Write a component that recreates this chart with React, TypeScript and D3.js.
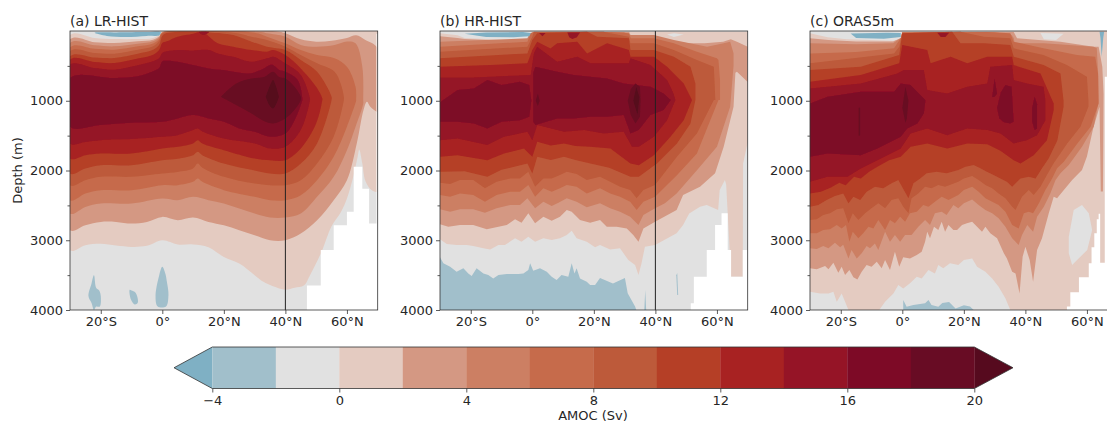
import React, { useLayoutEffect, useRef } from "react";
import * as d3 from "d3";

type P = [number, number];

// Contour thresholds (Sv) and their fill colours
const levels = [-6, -4, -2, 0, 2, 4, 6, 8, 10, 12, 14, 16, 18, 20];
const levelColors = ["#7fb0c4", "#a1bfcb", "#e1e1e1", "#e4cbc1", "#d49883", "#cc7f63", "#c66b4b", "#bd5a3a", "#b53f26", "#a82222", "#951426", "#7d0a26", "#680c24", "#560a1e"];
const cbTicks = [-4, 0, 4, 8, 12, 16, 20];
const latTicks = [-20, 0, 20, 40, 60];
const depthMajor = [1000, 2000, 3000, 4000];
const depthMinor = [500, 1500, 2500, 3500];

// ---------- (a) LR-HIST: region >= level, as top edge + bottom edge [lat, depth]
const a0T: P[] = [[-30,60],[-22,100],[-15.6,115],[-8,115],[-3,100],[-1,50],[0,0],[70,0]];
const a0B: P[] = [[-30,3144],[-25,3070],[-20,3050],[-15,3075],[-10,3095],[-5,3080],[0,3000],[5,3060],[10,3060],[15,3100],[20,3240],[25,3335],[30,3500],[33,3600],[36,3660],[40,3710],[43,3680],[46,3650],[48,3500],[50,3330],[52,3140],[55,2800],[58,2600],[60,2400],[62,2100],[63.5,1800],[64,1700],[65,1900],[66,2150],[68,2280],[70,2300]];
const a2T: P[] = [[-30,120],[-22,160],[-15.6,172],[-8,148],[-3,124],[-1,76],[0,15],[38,10],[40,33],[45,120],[50,153],[55,139],[60,100],[63,60],[66,130],[70,249]];
const a2B: P[] = [[-30,2856],[-25,2785],[-20,2737],[-15,2737],[-10,2761],[-5,2737],[0,2665],[5,2713],[10,2675],[15,2737],[20,2785],[25,2856],[30,2930],[35,3000],[40,3000],[45,2904],[50.3,2713],[55.7,2426],[60,2139],[63.2,1612],[65.4,1134],[66.5,1014],[67.6,1086],[69.7,1158],[70,1160]];
const a4T: P[] = [[-30,172],[-22,205],[-15.6,220],[-8,182],[-3,148],[-1,90],[0,20],[32,15],[34,33],[40,81],[45,200],[50,225],[56,200],[60,150],[62.8,177],[65,512],[65.3,990]];
const a4B: P[] = [[-30,2617],[-25,2522],[-20,2474],[-10,2474],[0,2402],[5,2426],[10,2378],[15,2426],[20,2474],[25,2545],[30,2617],[35,2675],[40,2675],[45,2617],[50.3,2378],[55.7,2091],[60,1708],[62.8,1373],[65.3,1038]];
const a6T: P[] = [[-30,235],[-22,255],[-15.6,268],[-8,220],[-3,180],[-1,110],[0,25],[30,25],[34,81],[40,177],[45,273],[50.3,345],[56,392],[60,512],[62.8,800],[63,990]];
const a6B: P[] = [[-30,2426],[-25,2330],[-20,2282],[-10,2282],[0,2211],[5,2211],[10,2163],[11.5,2115],[13,2163],[20,2282],[30,2378],[35,2426],[40,2426],[45,2354],[50.3,2139],[55.7,1804],[60,1373],[63,1000]];
const a8T: P[] = [[-30,292],[-22,315],[-15.6,325],[-8,268],[-3,220],[-1,140],[0,35],[23,25],[29,81],[34,129],[40,225],[45,345],[50.3,464],[56,584],[58,760],[59,943]];
const a8B: P[] = [[-30,2211],[-25,2139],[-20,2091],[-10,2091],[0,2043],[5,2020],[10,1971],[11.5,1900],[13,1960],[20,2091],[30,2187],[40,2211],[45,2139],[50.3,1900],[55.7,1517],[59,990]];
const a10T: P[] = [[-30,363],[-22,380],[-15.6,387],[-8,325],[-3,268],[-1,196],[0,70],[1.5,30],[11,10],[15,20],[23,57],[29,153],[34,225],[40,273],[45,416],[50.3,584],[55,943]];
const a10B: P[] = [[-30,2043],[-25,1971],[-20,1924],[-10,1924],[0,1852],[5,1830],[10,1780],[11.5,1732],[13,1780],[20,1900],[30,2000],[35,2043],[40,2043],[45,1900],[50.3,1612],[55,990]];
const a12T: P[] = [[-30,411],[-22,445],[-15.6,459],[-8,396],[-3,339],[-1,268],[0,172],[1.5,148],[5,81],[10,40],[12,15],[14,40],[18,177],[23,225],[29,273],[34,297],[36,273],[40,345],[45,536],[50,800],[52,967]];
const a12B: P[] = [[-30,1828],[-25,1780],[-20,1756],[-10,1756],[0,1684],[5,1660],[10,1612],[11.5,1565],[13,1612],[20,1708],[30,1828],[35,1852],[40,1852],[45,1684],[50,1325],[52,990]];
const a14T: P[] = [[-30,483],[-22,530],[-15.6,554],[-8,492],[-3,435],[-1,387],[0,315],[1.5,292],[5,273],[10,280],[15,273],[18,321],[23,368],[29,440],[34,392],[36,368],[40,464],[45,632],[48,967]];
const a14B: P[] = [[-30,1612],[-25,1590],[-20,1565],[-10,1550],[0,1517],[5,1493],[10,1420],[11.5,1397],[13,1440],[20,1541],[30,1612],[35,1684],[40,1660],[45,1421],[48,990]];
const a14P: P[] = [[11.9,15],[15.2,15],[14,50],[13,55]];
const a16T: P[] = [[-30,674],[-15.6,674],[-8,650],[-3,578],[-1,530],[0,435],[1.5,425],[5,440],[10,488],[15,536],[20,560],[28,608],[32,560],[35,488],[36,488],[38,560],[40,584],[44,703],[45.5,967]];
const a16B: P[] = [[-30,1373],[-20,1349],[-10,1316],[0,1302],[5,1254],[10,1206],[15,1254],[20,1302],[25,1397],[30,1445],[35,1517],[40,1469],[43,1278],[45.5,990]];
const a18T: P[] = [[19,943],[24,751],[29,680],[33,660],[36,584],[38,660],[40,680],[43,800],[45,943]];
const a18B: P[] = [[19,943],[24,1062],[29,1182],[33,1290],[36,1325],[40,1254],[43,1130],[45,990]];
const a20T: P[] = [[33.6,943],[35,780],[36,703],[37,800],[37.9,943]];
const a20B: P[] = [[33.6,943],[35,1080],[36,1110],[37,1050],[37.9,943]];
const aBlue1: P[] = [[-24,3800],[-23,3620],[-22.2,3500],[-21.5,3680],[-20.5,3720],[-20,3800],[-20.3,3950],[-21.5,3950],[-22.2,4000],[-23,3900]];
const aBlue2: P[] = [[-10.6,3710],[-10,3720],[-9,3740],[-8.2,3800],[-8,3900],[-9,3920],[-10.2,3850]];
const aBlue3: P[] = [[-2.2,3800],[-1,3500],[0,3380],[1,3480],[1.5,3600],[2,3780],[1.2,3950],[-1.5,3950]];
const aBlueTop: P[] = [[-22,25],[-15,20],[-5,15],[-0.5,15],[-1,60],[-5,70],[-12,85],[-18,70]];
const aMask: P[] = [[47,3650],[51.5,3140],[55.7,2785],[60,2590],[62.2,1947],[65,2260],[67.2,2760],[69.6,40],[70,40]];

// ---------- (b) HR-HIST
const b0T: P[] = [[-30,33],[-24.3,60],[-22,100],[-10,125],[-2,125],[-0.5,100],[0,10],[70,10]];
const b0B: P[] = [[-30,2987],[-27.8,3054],[-24.6,3069],[-21.3,3069],[-19.2,3083],[-15.9,3116],[-13.7,3131],[-11,3069],[-8.9,3069],[-5.6,2973],[-3.5,3021],[-1.3,2949],[0.9,3021],[3.6,2973],[6.3,2997],[9,2973],[11.2,2925],[12.8,2863],[14.4,2973],[17.7,3021],[20.4,3102],[22,3069],[25.3,3131],[28.5,3116],[31.2,3284],[33.4,3355],[34.5,3499],[35.5,3331],[36.6,3092],[39.9,3069],[46.9,2900],[49,2780],[51,2615],[54.5,2519],[56.7,2495],[60.4,2566],[60.9,2280],[62.6,2136],[63,2200],[63.5,2614],[64.6,3522],[68.4,3522],[68.5,1900],[70,1600]];
const b2T: P[] = [[-30,75],[-24.3,100],[-22,115],[-10,135],[-2,135],[-0.5,100],[0.3,15],[31.5,15],[32,70],[40,81],[46,153],[51,177],[56,177],[62,153],[64.5,120],[66.5,153],[70,225]];
const b2B: P[] = [[-30,2772],[-27.3,2806],[-23.5,2782],[-19.2,2782],[-14.8,2844],[-11,2806],[-8.3,2782],[-5.6,2700],[-3.5,2748],[-1.3,2614],[0.9,2758],[3.6,2662],[6.3,2720],[9,2662],[11.2,2567],[12.8,2590],[15.5,2710],[18.8,2748],[22,2710],[24.2,2806],[27.4,2806],[30.7,2830],[32.8,2925],[34.5,3021],[36.1,2830],[39.9,2734],[46.9,2566],[49,2350],[54.5,2232],[59.4,2040],[62.2,1660],[65.4,1086],[66,600],[66.5,584],[70,730]];
const b4T: P[] = [[-30,153],[-1.6,105],[-0.8,33],[0.5,15],[29.7,15],[32,57],[39.5,57],[46,129],[56.8,225],[62.2,177],[64.3,153],[65.4,320]];
const b4B: P[] = [[-30,2557],[-26.7,2590],[-23.5,2557],[-19.2,2557],[-15.4,2605],[-11.6,2543],[-7.2,2495],[-4,2495],[-1.6,2399],[0.9,2543],[3.6,2447],[6.3,2509],[8.5,2461],[11.2,2399],[14.4,2447],[17.7,2528],[22,2471],[25.3,2543],[28.5,2590],[31.8,2662],[34.5,2782],[36.1,2638],[39.9,2543],[43.1,2471],[46.9,2328],[53.5,1995],[60,1660],[64.3,1086],[65.4,500]];
const b6T: P[] = [[-30,225],[-1.6,153],[-0.5,33],[0.5,15],[25.4,15],[31.4,33],[32,105],[39.5,105],[46,177],[53.5,297],[60,392],[60.5,416],[61,700],[61,990]];
const b6B: P[] = [[-30,2351],[-26.7,2375],[-23.5,2328],[-19.2,2351],[-15.4,2447],[-11.6,2351],[-7.2,2304],[-4,2304],[-1.3,2208],[0.9,2375],[3.6,2256],[6.3,2304],[9,2256],[11.2,2208],[14.4,2232],[17.7,2328],[22,2256],[25.3,2328],[28.5,2375],[31.8,2447],[33.9,2567],[36.1,2447],[39.9,2375],[47,2067],[53.5,1756],[60.5,990]];
const b8T: P[] = [[-30,297],[-1.6,225],[0,81],[0.5,10],[23.2,10],[25.4,33],[31.4,81],[31.9,177],[39.5,177],[46,273],[53.5,416],[59,512],[59.5,990]];
const b8B: P[] = [[-30,2175],[-26.7,2194],[-23.5,2136],[-19.2,2136],[-15.4,2256],[-11.6,2160],[-7.2,2113],[-4,2113],[-1.3,2017],[0.9,2232],[3.6,2113],[6.3,2113],[9,2065],[11.2,2017],[14.4,2050],[17.7,2136],[22,2089],[25.3,2160],[28.5,2232],[31.8,2280],[33.9,2399],[36.1,2280],[39.9,2208],[47,1804],[53.5,1469],[59,990]];
const b10T: P[] = [[-30,392],[-1.6,321],[0,129],[1.6,33],[17.8,10],[21.1,81],[31.4,105],[31.9,273],[39.5,273],[46,368],[51.4,512],[53,751],[53,990]];
const b10B: P[] = [[-30,2019],[-22,2010],[-14.6,2091],[-10,1990],[-1.6,1900],[0,2043],[1.6,1804],[6,1850],[10.3,1804],[14,1850],[18.9,1900],[25,1960],[31.9,2091],[34.6,2091],[40.5,1900],[47,1612],[51.4,1325],[53,990]];
const b12T: P[] = [[-30,512],[-13.5,488],[-1.6,464],[0,273],[1.6,153],[5.9,250],[8.1,177],[14.6,153],[17.8,321],[24.3,177],[31.4,273],[31.9,368],[39.5,368],[43.8,512],[49.2,751],[51.9,990]];
const b12B: P[] = [[-30,1804],[-24.3,1780],[-14.6,1852],[-9.2,1756],[-2.7,1684],[0,1804],[1.6,1589],[6,1640],[10.3,1612],[14,1650],[18.9,1660],[25.4,1684],[31.9,1900],[34.6,1924],[39.5,1780],[44.9,1517],[49.2,1278],[51.9,990]];
const b14T: P[] = [[-30,665],[-19,665],[-0.5,632],[0.5,321],[1.6,225],[8.1,440],[14.6,368],[18.9,464],[24.3,464],[31.4,464],[31.9,392],[38.4,488],[43.8,703],[45.9,895],[46.5,990]];
const b14B: P[] = [[-30,1565],[-24.3,1541],[-14.6,1636],[-9.2,1517],[-1.6,1445],[0,1565],[1.6,1349],[10.3,1445],[16.8,1421],[23.2,1469],[29.7,1445],[32.4,1660],[34.6,1660],[39.5,1517],[43.8,1278],[46.5,990]];
const b14P1: P[] = [[2.2,30],[4.3,30],[3.3,75]];
const b14P2: P[] = [[11.4,20],[15.5,20],[14.5,90],[13,115],[12,90]];
const b16L: P[] = [[-30,1020],[-24.3,847],[-19,823],[-14.6,703],[-10,775],[-4,727],[-1,775],[-0.3,1000],[-1,1230],[-4,1278],[-10,1302],[-14.6,1397],[-19,1325],[-24.3,1302],[-30,1302]];
const b16T: P[] = [[0.3,600],[1,512],[8.1,584],[13.5,632],[18.9,656],[24.3,680],[29.7,751],[38.4,799],[42.7,895],[45,990]];
const b16B: P[] = [[0.3,1300],[1,1349],[8.1,1254],[13.5,1254],[18.9,1230],[24.3,1230],[29.7,1206],[31.9,1469],[34.6,1421],[38.4,1206],[42.7,1134],[45,990]];
const b18P1: P[] = [[31,1000],[32,830],[33.5,751],[35,799],[35.2,1000],[35,1230],[33.5,1325],[32,1206]];
const b18P2: P[] = [[1.1,1000],[1.8,895],[2.4,1000],[1.8,1075]];
const b20P: P[] = [[32.8,1000],[33.8,800],[34.8,950],[34.2,1200]];
const bBlueTop: P[] = [[-22,40],[-15,20],[-3,15],[-0.5,30],[-1,75],[-6,90],[-15,85]];
const bBlueLow: P[] = [[-30,3245],[-28.9,3331],[-26.7,3379],[-24.6,3451],[-22.4,3403],[-20.8,3475],[-19.7,3513],[-18.1,3403],[-15.9,3475],[-14.3,3499],[-12.7,3547],[-11,3499],[-8.3,3484],[-4.5,3484],[-2.9,3475],[-1.3,3427],[-0.7,3331],[0.3,3437],[2.5,3403],[4.7,3451],[6.3,3523],[7.9,3570],[9.5,3499],[11.7,3523],[12.8,3331],[13.7,3475],[14.4,3403],[15.5,3547],[17.7,3594],[18.8,3642],[20.4,3642],[22,3540],[26.2,3620],[30.1,3540],[31,3760],[33.4,3950],[33.8,4000],[-30,4000]];
const bBlueS1: P[] = [[36.4,4000],[36.7,3713],[37,4000]];
const bBlueS2: P[] = [[46.8,3500],[47.1,3470],[47.4,3785],[47.1,3785]];
const bGrayTop: P[] = [[43.8,50],[46,33],[49.2,50],[46,85]];
const bMask: P[] = [[51.5,3904],[52.5,3522],[56.7,3140],[59.4,2781],[61.5,2614],[63.5,3140],[64.6,3522],[68.4,3140],[70,3140]];

// ---------- (c) ORAS5m
const c0T: P[] = [[-30,33],[-24.3,91],[-18,120],[-3,139],[-0.5,120],[0,10],[70,0]];
const c0B: P[] = [[-30,4000],[70,4000]];
const c2T: P[] = [[-30,105],[-24,130],[-15,150],[-3,150],[-0.5,100],[0,15],[36.2,15],[37.3,105],[51.4,153],[62.2,225],[63.8,225],[65,512],[65.4,900]];
const c2B: P[] = [[-30,3403],[-27.8,3417],[-25.1,3370],[-24,3417],[-22.4,3322],[-20.8,3465],[-19.7,3379],[-18.6,3499],[-17.2,3427],[-15.9,3532],[-14.6,3561],[-13.2,3451],[-11.6,3355],[-10,3379],[-8.3,3307],[-6.7,3403],[-5.6,3284],[-4,3427],[-2.4,3164],[-1,3379],[0.3,3245],[2.5,3260],[4.7,3212],[6.3,3164],[7.4,3021],[8.1,2877],[9,2973],[10.3,2806],[11.7,2853],[12.8,2734],[13.9,2877],[15,2782],[16.6,2853],[17.8,2853],[19.4,2782],[21,2758],[22.7,2734],[24.3,2806],[25.9,2877],[27,2806],[28.6,2901],[30.8,2973],[33,3188],[34,3260],[35.7,3451],[36.8,3475],[38.1,3762],[39.1,3236],[40,3092],[41.4,3284],[42.5,3594],[43.8,3140],[45.4,2973],[47.6,2614],[49.2,2375],[50.3,2399],[52.5,2280],[55.2,2136],[58.4,1993],[60,1800],[62,1400],[64.1,1086],[64.5,2300],[65.2,2300],[65.4,900]];
const c4T: P[] = [[-30,177],[-15,190],[-3,177],[-0.5,100],[0,15],[29.7,15],[35.5,57],[36.2,100],[36.5,177],[46,177],[62.2,225],[63.2,249],[63.7,650],[63.7,990]];
const c4B: P[] = [[-30,3116],[-27.8,3126],[-25.7,3083],[-24,3116],[-21.9,3035],[-20.2,3102],[-19.2,3064],[-17.5,3260],[-16.5,3140],[-14.8,3260],[-13.2,3188],[-11.6,3083],[-10.5,3116],[-8.9,3045],[-7.8,3140],[-5.6,2877],[-4,3021],[-2.4,2925],[-0.7,3021],[0.9,2925],[3,2925],[5.2,2806],[7.4,2710],[9,2782],[10.6,2614],[12.8,2590],[14.4,2638],[16.6,2495],[18.2,2543],[20,2471],[22.7,2414],[24.8,2495],[27,2567],[29.2,2614],[31.3,2686],[33.5,2806],[35.7,2973],[37.8,3069],[38.9,2925],[40.6,2782],[42.5,2877],[43.8,2662],[46,2519],[48.1,2328],[49.8,2136],[51.4,2041],[54.1,1921],[58.4,1658],[62.2,1372],[63.7,1037]];
const c6T: P[] = [[-30,321],[-15,300],[-2.7,249],[-0.5,100],[0,20],[27.6,15],[35.1,33],[36.2,153],[45.9,249],[56.8,345],[62.7,368],[63.6,608],[63.8,990]];
const c6B: P[] = [[-30,2901],[-27.8,2901],[-25.7,2853],[-23.5,2844],[-21.3,2782],[-19.7,2830],[-18.3,2782],[-17.2,3021],[-16.1,2877],[-14.3,2973],[-12.7,2901],[-11,2806],[-9.4,2830],[-7.8,2710],[-5.6,2853],[-4,2710],[-2.4,2758],[-0.7,2662],[0.9,2734],[2.5,2614],[4.7,2590],[6.8,2495],[8.5,2519],[10.6,2447],[12.8,2375],[15,2423],[18.2,2351],[20,2280],[22.7,2232],[24.8,2304],[27,2399],[29.2,2447],[31.3,2495],[33.5,2590],[35.7,2782],[37.8,2830],[39.5,2614],[41.1,2590],[42.5,2614],[44.4,2471],[46.5,2280],[48.7,2113],[50.3,1969],[52.5,1874],[56.9,1612],[61.2,1373],[63.8,1038]];
const c8T: P[] = [[-30,464],[-2.7,321],[-1,225],[0,33],[18.9,10],[26.5,81],[35.1,105],[36.2,249],[45.9,345],[53.5,488],[60,656],[60.5,1000]];
const c8B: P[] = [[-30,2710],[-27.8,2700],[-25.7,2638],[-23.5,2614],[-21.3,2557],[-19.2,2543],[-17.5,2758],[-16.1,2614],[-14.3,2710],[-12.1,2614],[-10,2543],[-7.8,2471],[-5.6,2543],[-3.5,2423],[-1.3,2399],[0.3,2519],[2,2614],[3,2399],[5.2,2328],[7.4,2232],[9.5,2256],[11.7,2208],[13.9,2232],[18.2,2160],[20,2113],[22.7,2079],[24.8,2136],[27,2208],[29.2,2256],[31.3,2328],[33.5,2399],[35.7,2519],[36.8,2567],[38.9,2375],[41.1,2280],[42.7,2351],[44.9,2232],[47,2065],[49.2,1897],[53.6,1612],[57.9,1373],[60.5,1086]];
const c10T: P[] = [[-30,560],[-13.5,512],[-1,345],[0,33],[16.2,10],[18.9,177],[26.5,177],[35.1,200],[36.2,368],[45.9,488],[51.4,608],[52.4,1000]];
const c10B: P[] = [[-30,2519],[-27.3,2495],[-24.6,2423],[-21.9,2366],[-19.2,2328],[-17.5,2471],[-15.9,2375],[-13.7,2423],[-11.6,2304],[-8.9,2232],[-6.2,2256],[-3.5,2184],[-1.3,2136],[2,2399],[3.6,2184],[5.8,2113],[7.9,2041],[11.2,2017],[14.4,2041],[18.2,1993],[20.5,1945],[23.2,1921],[25.4,1969],[27.5,2017],[29.7,2065],[31.9,2113],[34,2160],[35.7,2232],[38.4,2113],[41.1,2089],[43.3,2113],[45.4,1969],[47.6,1826],[50.4,1565],[52.4,1086]];
const c12T: P[] = [[-30,727],[-13.5,632],[-1,464],[0,200],[8.1,273],[9.2,464],[15.7,368],[21.1,464],[27.6,368],[35.7,368],[36.2,488],[44.9,608],[49.2,1038]];
const c12B: P[] = [[-30,2330],[-26.5,2306],[-23.2,2244],[-20.5,2177],[-18.4,2211],[-15.7,2091],[-13.5,2115],[-10.8,2019],[-8.1,1947],[-4.3,1852],[-0.5,1804],[2.7,1660],[8.1,1612],[14.6,1684],[21.1,1612],[27.6,1622],[31.9,1718],[36.2,1852],[38.4,1900],[42.7,1780],[47,1565],[49.2,1134]];
const c14T: P[] = [[-30,823],[-13.5,751],[-1.6,608],[0.5,560],[7,560],[8.1,847],[14.6,895],[21.1,799],[27.6,751],[28.6,512],[35.7,488],[36.2,703],[40.5,751],[45.9,799],[46.5,1000]];
const c14B: P[] = [[-30,2163],[-24.3,2091],[-17.8,2091],[-13.5,1971],[-8.1,1852],[-0.5,1684],[2.7,1469],[8.1,1397],[14.6,1493],[21.1,1397],[27.6,1421],[31.9,1469],[36.2,1612],[40.5,1565],[43.8,1493],[46.5,1278]];
const c14P: P[] = [[11.4,25],[15.2,25],[14,85],[12.5,85]];
const c16T: P[] = [[-30,1038],[-24.3,943],[-13.5,871],[-2.7,871],[-0.5,751],[2.7,775],[7.5,990]];
const c16B: P[] = [[-30,1804],[-24.3,1756],[-13.5,1780],[-8.1,1684],[-0.5,1517],[1.6,1397],[4.9,1325],[7,1182],[7.5,1000]];
const c16P1: P[] = [[29.2,950],[30,680],[30.8,900],[30,943]];
const c16P2: P[] = [[30.8,1100],[32,880],[33.5,775],[35.5,800],[36.2,1300],[35,1325],[33,1310],[31.5,1250]];
const c16P3: P[] = [[42.2,1100],[43,943],[43.8,1050],[43.8,1400],[43,1421],[42.2,1300]];
const c18P1: P[] = [[0,1100],[1,800],[2,1000],[1.5,1250],[1,1320]];
const c18P2: P[] = [[-14.2,1100],[-13.7,1100],[-13.7,1500],[-14.2,1500]];
const cBlueTop: P[] = [[-16.8,35],[-5,25],[-0.5,30],[-0.5,85],[-6,110],[-15,100]];
const cBlueStrip: P[] = [[64.1,10],[65.6,10],[65.3,100],[64.8,370],[64.4,100]];
const cBlueLow: P[] = [[0.3,3857],[1.4,3953],[3.6,3929],[7.4,3905],[8.5,3857],[9.5,3929],[11.7,3953],[13,3900],[15.2,3885],[17.3,3980],[20,3933],[22,3950],[23.2,4000],[0.3,4000]];
const cGrayL: P[] = [[-30,3738],[-26.7,3762],[-24,3762],[-22.4,3738],[-21.3,3881],[-19.7,3762],[-17.5,4000],[-30,4000]];
const cGrayM: P[] = [[-7.5,4000],[-5.6,3881],[-2.9,3762],[-1.3,3642],[0.3,3690],[2.5,3618],[4.7,3523],[6.3,3547],[8.5,3427],[10.6,3475],[11.7,3355],[13.3,3403],[15.5,3331],[18.2,3355],[20,3284],[22.7,3260],[24.3,3379],[27,3451],[29.2,3547],[31.3,3666],[33.5,3833],[35.1,4000]];
const cGrayR: P[] = [[54.1,2949],[55.7,2567],[58.4,2495],[60.6,2614],[61.7,2853],[60.1,3140],[56.8,3284],[55.2,3355],[54.1,3188]];
const cGrayTop: P[] = [[44.9,30],[52.4,40],[50,130],[46,120]];
const cMask: P[] = [[53.5,3950],[54.6,3745],[57.4,3530],[60.6,3331],[61.5,3100],[62.4,2900],[63.2,2700],[63.8,2620],[64.3,3322],[65.8,656],[70,656]];

const ring = (top: P[], bot: P[]): P[] => top.concat(bot.slice().reverse());

const panels = [
  { title: "(a) LR-HIST", left: 70, line: true, smooth: true, mask: aMask, marks: [
    [0, ring(a0T, a0B)], [2, ring(a2T, a2B)], [4, ring(a4T, a4B)], [6, ring(a6T, a6B)], [8, ring(a8T, a8B)], [10, ring(a10T, a10B)],
    [12, ring(a12T, a12B)], [14, ring(a14T, a14B)], [14, a14P], [16, ring(a16T, a16B)], [18, ring(a18T, a18B)], [20, ring(a20T, a20B)],
    [-4, aBlue1], [-4, aBlue2], [-4, aBlue3], [-6, aBlueTop],
  ] },
  { title: "(b) HR-HIST", left: 440, line: true, smooth: false, mask: bMask, marks: [
    [0, ring(b0T, b0B)], [2, ring(b2T, b2B)], [4, ring(b4T, b4B)], [6, ring(b6T, b6B)], [8, ring(b8T, b8B)], [10, ring(b10T, b10B)],
    [12, ring(b12T, b12B)], [14, ring(b14T, b14B)], [14, b14P1], [14, b14P2], [16, b16L], [16, ring(b16T, b16B)], [18, b18P1], [18, b18P2], [20, b20P],
    [-6, bBlueTop], [-4, bBlueLow], [-4, bBlueS1], [-4, bBlueS2], [-2, bGrayTop],
  ] },
  { title: "(c) ORAS5m", left: 810, line: false, smooth: false, mask: cMask, marks: [
    [0, ring(c0T, c0B)], [2, ring(c2T, c2B)], [4, ring(c4T, c4B)], [6, ring(c6T, c6B)], [8, ring(c8T, c8B)], [10, ring(c10T, c10B)],
    [12, ring(c12T, c12B)], [14, ring(c14T, c14B)], [14, c14P], [16, ring(c16T, c16B)], [16, c16P1], [16, c16P2], [16, c16P3], [18, c18P1], [18, c18P2],
    [-2, cGrayL], [-2, cGrayM], [-2, cGrayR], [-2, cGrayTop], [-4, cBlueLow], [-6, cBlueTop], [-6, cBlueStrip],
  ] },
] as { title: string; left: number; line: boolean; smooth: boolean; mask: P[]; marks: [number, P[]][] }[];

const W = 1107, H = 423, TOP = 31, BOTTOM = 310, PW = 307.7;
const FONT = "'DejaVu Sans'";
const TXT = "#262626";
const colorOf = d3.scaleOrdinal<number, string>().domain(levels).range(levelColors);
const y = d3.scaleLinear().domain([0, 4000]).range([TOP, BOTTOM]);
const fmtLat = (d: number) => (d === 0 ? "0°" : d < 0 ? `${-d}°S` : `${d}°N`);

function style(g: any) {
  g.select(".domain").remove();
  g.attr("font-family", FONT).attr("font-size", 13).attr("fill", TXT);
  g.selectAll("text").attr("fill", TXT);
  g.selectAll("line").attr("stroke", "#333").attr("stroke-width", 0.8);
}

function Panel({ p, idx }: { p: (typeof panels)[number]; idx: number }) {
  const xRef = useRef<SVGGElement>(null);
  const yRef = useRef<SVGGElement>(null);
  const yMinRef = useRef<SVGGElement>(null);
  const x = d3.scaleLinear().domain([-30, 70]).range([p.left, p.left + PW]);
  useLayoutEffect(() => {
    d3.select(xRef.current!).call(d3.axisBottom(x).tickValues(latTicks).tickFormat((d: any) => fmtLat(+d)).tickSize(4).tickPadding(3) as any).call(style);
    d3.select(yRef.current!).call(d3.axisLeft(y).tickValues(depthMajor).tickSize(4).tickPadding(3).tickFormat(d3.format("d") as any) as any).call(style);
    d3.select(yMinRef.current!).call(d3.axisLeft(y).tickValues(depthMinor).tickSize(2.5).tickFormat(() => "") as any).call(style);
  }, []);
  const line = d3.line<P>().x((d) => x(d[0])).y((d) => y(d[1]));
  if (p.smooth) line.curve(d3.curveCatmullRomClosed.alpha(0.5));
  const poly = (pts: P[]) => line(pts)! + (p.smooth ? "" : "Z");
  const mask = d3.area<P>().curve(d3.curveStepAfter).x((d) => x(d[0])).y0(y(4000)).y1((d) => y(d[1]));
  const clip = `clip${idx}`;
  return (
    <g>
      <clipPath id={clip}><rect x={p.left} y={TOP} width={PW} height={BOTTOM - TOP} /></clipPath>
      <g clipPath={`url(#${clip})`}>
        <g filter="url(#soft)">
          <rect x={p.left} y={TOP} width={PW} height={BOTTOM - TOP} fill={colorOf(-2)} />
          {p.marks.map(([lv, pts], i) => (
            <path key={i} d={poly(pts)} fill={colorOf(lv)} />
          ))}
          <path d={mask(p.mask)!} fill="#fff" />
        </g>
      </g>
      {p.line && <line x1={x(40)} x2={x(40)} y1={TOP} y2={BOTTOM} stroke="#222" strokeWidth={1} />}
      <rect x={p.left} y={TOP} width={PW} height={BOTTOM - TOP} fill="none" stroke="#333" strokeWidth={0.8} />
      <g ref={xRef} transform={`translate(0,${BOTTOM})`} />
      <g ref={yRef} transform={`translate(${p.left},0)`} />
      <g ref={yMinRef} transform={`translate(${p.left},0)`} />
      <text x={p.left} y={26} fontFamily={FONT} fontSize={14} fill={TXT}>{p.title}</text>
    </g>
  );
}

function Colorbar() {
  const ref = useRef<SVGGElement>(null);
  const cx = d3.scaleLinear().domain([-4, 20]).range([212.3, 974.3]);
  const yT = 347, yB = 388.5, yM = (yT + yB) / 2;
  const bands = d3.range(-4, 20, 2);
  useLayoutEffect(() => {
    d3.select(ref.current!).call(d3.axisBottom(cx).tickValues(cbTicks).tickSize(4).tickPadding(3).tickFormat((d: any) => (+d < 0 ? `−${-d}` : `${d}`)) as any).call(style);
  }, []);
  return (
    <g>
      <path d={`M212.3,${yT}L174,${yM}L212.3,${yB}Z`} fill={colorOf(-6)} />
      <path d={`M974.3,${yT}L1013,${yM}L974.3,${yB}Z`} fill={colorOf(20)} />
      {bands.map((b) => (
        <rect key={b} x={cx(b)} y={yT} width={cx(b + 2) - cx(b) + 0.3} height={yB - yT} fill={colorOf(b)} />
      ))}
      <path d={`M212.3,${yT}L974.3,${yT}L1013,${yM}L974.3,${yB}L212.3,${yB}L174,${yM}Z`} fill="none" stroke="#333" strokeWidth={0.8} />
      <g ref={ref} transform={`translate(0,${yB})`} />
      <text x={593} y={420} textAnchor="middle" fontFamily={FONT} fontSize={13} fill={TXT}>AMOC (Sv)</text>
    </g>
  );
}

export default function App() {
  return (
    <svg width={W} height={H} viewBox={`0 0 ${W} ${H}`} style={{ position: "fixed", left: 0, top: 0, background: "#fff" }}>
      <defs>
        <filter id="soft" x="-2%" y="-2%" width="104%" height="104%"><feGaussianBlur stdDeviation="0.45" /></filter>
      </defs>
      {panels.map((p, i) => <Panel key={p.title} p={p} idx={i} />)}
      <text transform="translate(22,170.5) rotate(-90)" textAnchor="middle" fontFamily={FONT} fontSize={13} fill={TXT}>Depth (m)</text>
      <Colorbar />
    </svg>
  );
}
